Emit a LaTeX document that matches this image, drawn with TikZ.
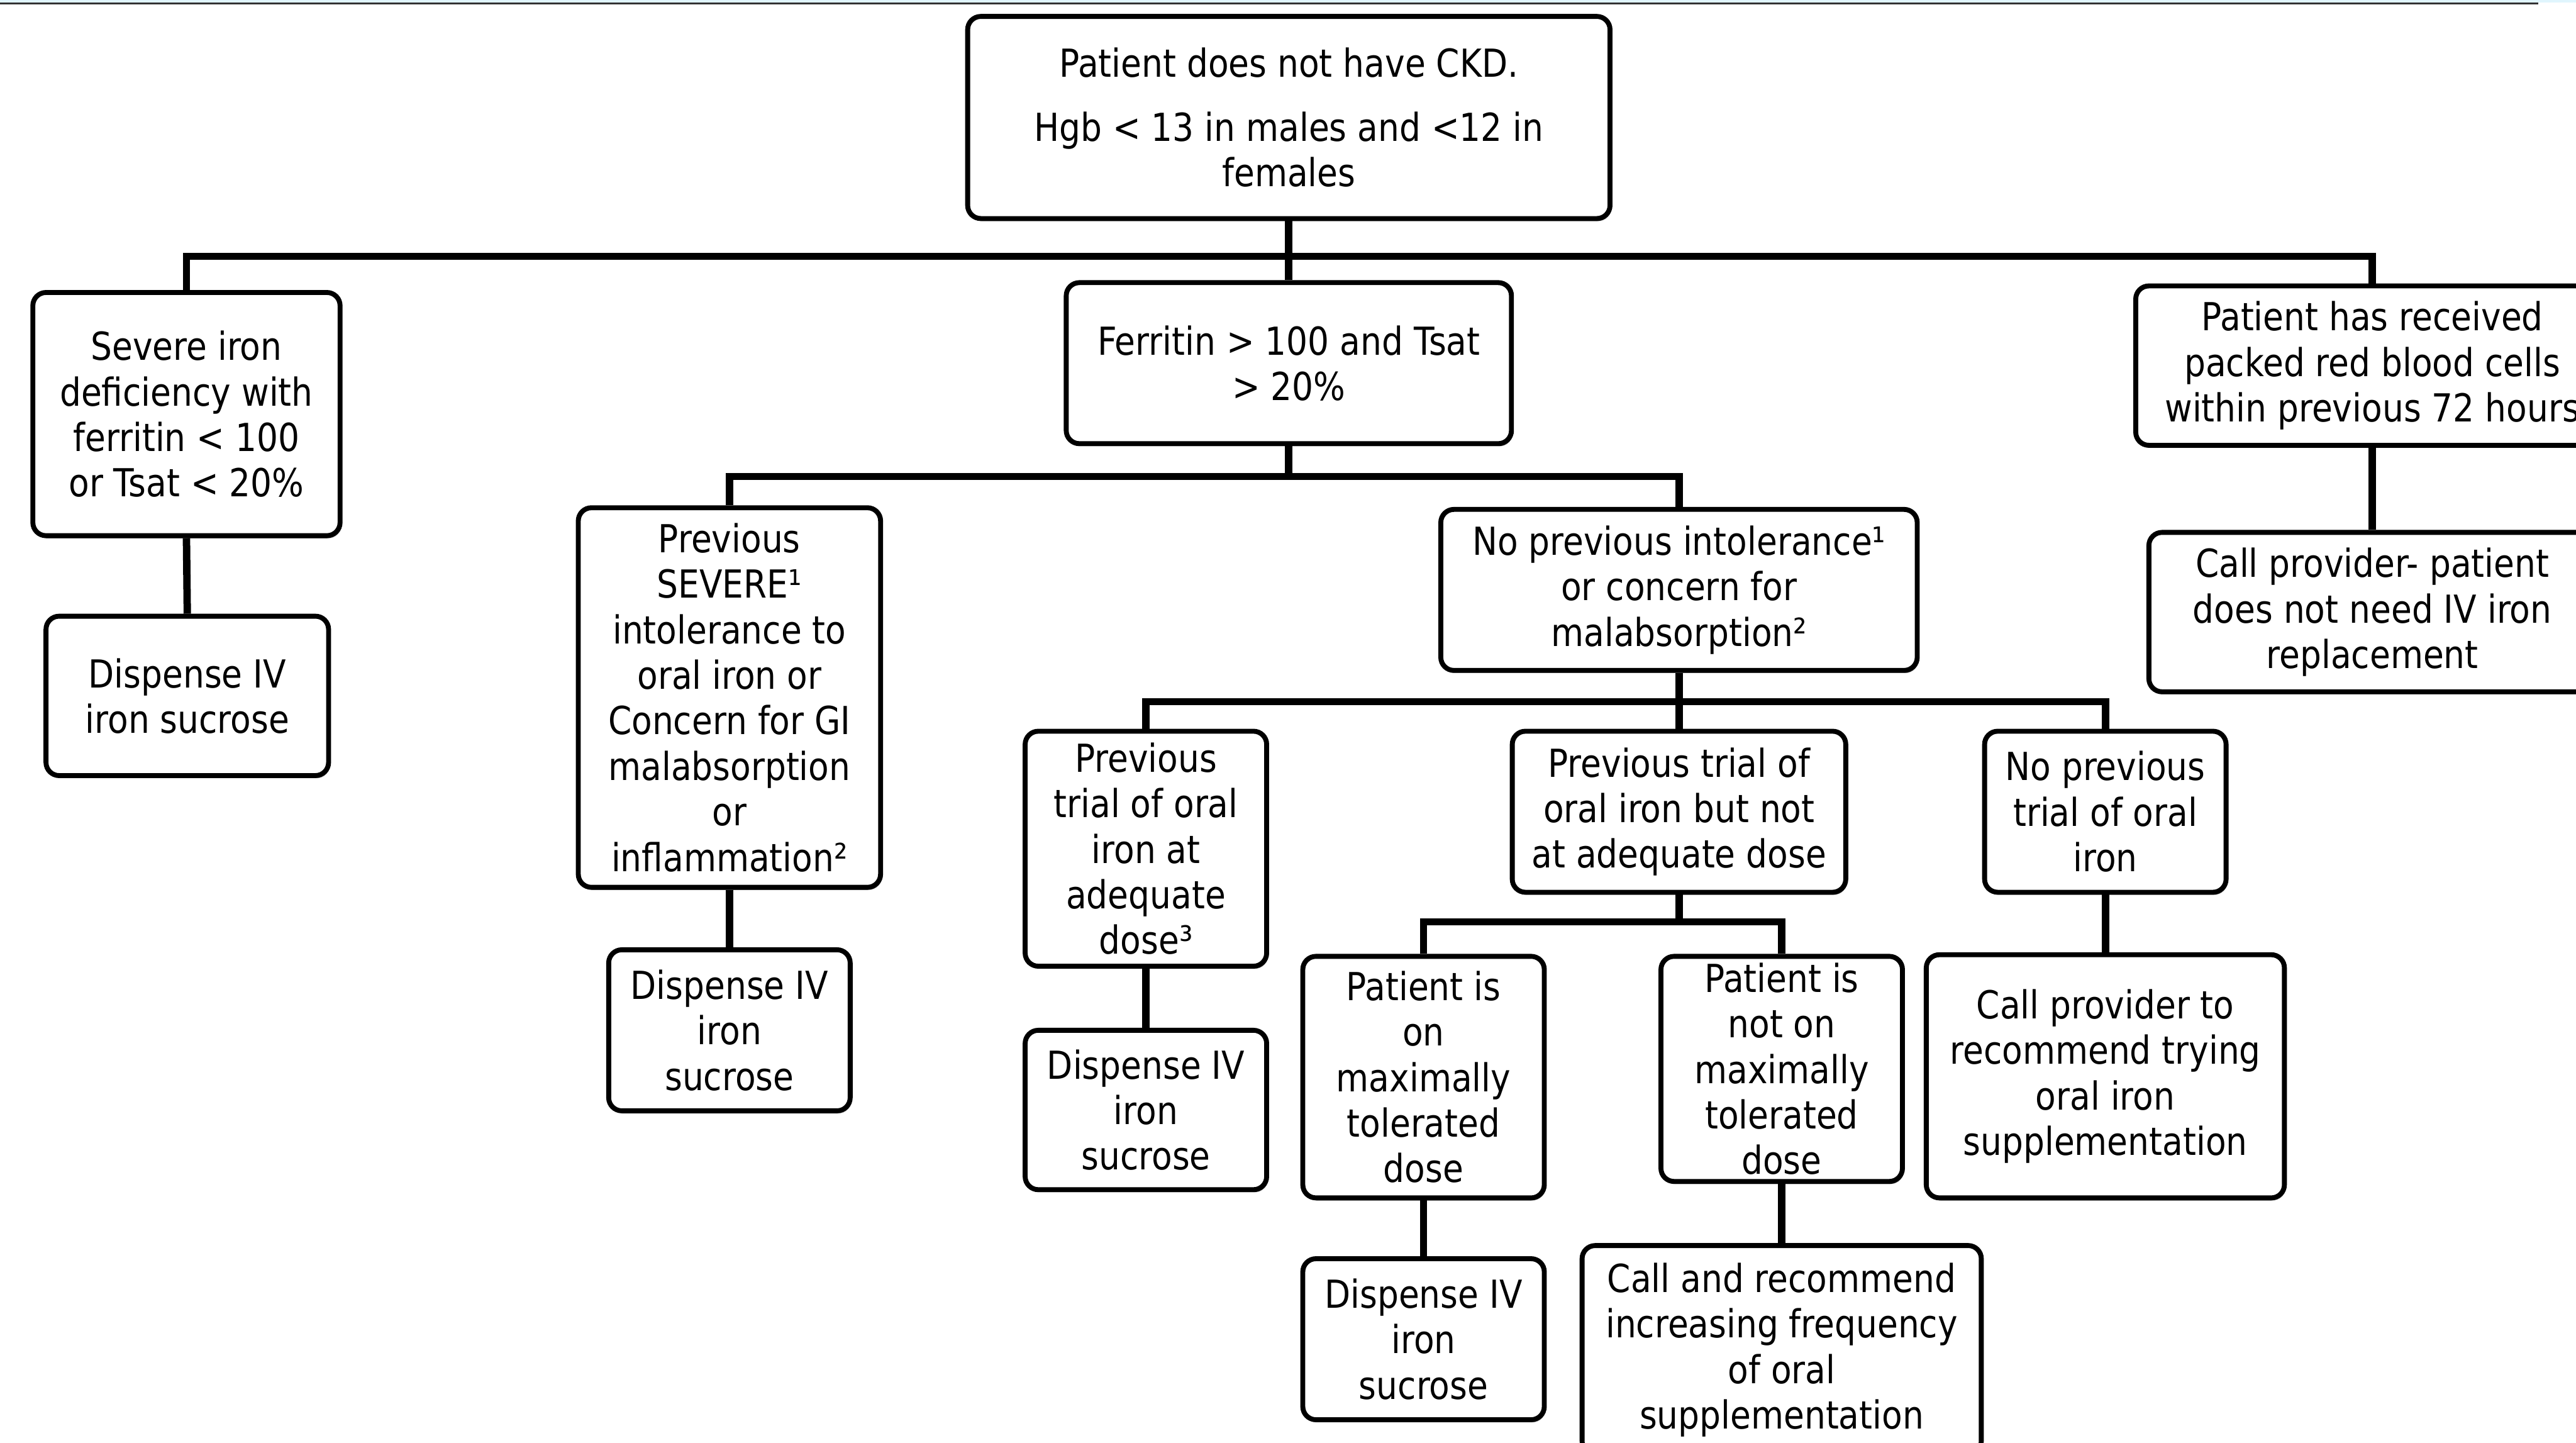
\documentclass[tikz,border=0pt]{standalone}
\usepackage{fontspec}
\setmainfont{DejaVu Sans}[FakeStretch=0.87]
\usetikzlibrary{shadows}

\begin{document}
\begin{tikzpicture}[x=1pt,y=-1pt,
  box/.style={draw,line width=3pt,rounded corners=8pt,fill=white,align=center,inner sep=0pt,
    font=\fontsize{23.5}{27.7}\selectfont,
    drop shadow={shadow xshift=0.8pt,shadow yshift=-1.6pt,fill=black!60,opacity=0.6}},
  conn/.style={line width=4.5pt}]
\useasboundingbox (0,0) rectangle (1568,878);
\clip (0,0) rectangle (1568,878);

\fill[cyan!12] (0,0) rectangle (1568,1.6);
\draw[black!80,line width=0.9pt] (0,2.1) -- (1545,2.1);

\node[box,minimum width=391pt,minimum height=123pt] (top) at (784.5,71.5)
  {Patient does not have CKD.\\[11pt] Hgb < 13 in males and <12 in\\ females};

\node[box,minimum width=187pt,minimum height=148pt] (severe) at (113.5,252)
  {Severe iron\\ deficiency with\\ ferritin < 100\\ or Tsat < 20\%};
\node[box,minimum width=271pt,minimum height=98pt] (ferritin) at (784.5,221)
  {Ferritin > 100 and Tsat\\ > 20\%};
\node[box,minimum width=288pt,minimum height=97pt] (rbc) at (1444,222.5)
  {Patient has received\\ packed red blood cells\\ within previous 72 hours};

\node[box,minimum width=172pt,minimum height=97pt] (disp1) at (114,423.5)
  {Dispense IV\\ iron sucrose};
\node[box,minimum width=272pt,minimum height=97pt] (callno) at (1444,372.5)
  {Call provider- patient\\ does not need IV iron\\ replacement};

\node[box,minimum width=184pt,minimum height=231pt] (sevint) at (444,424.5)
  {Previous\\ SEVERE¹\\ intolerance to\\ oral iron or\\ Concern for GI\\ malabsorption\\ or\\ inflammation²};
\node[box,minimum width=290pt,minimum height=98pt] (nointol) at (1022,359)
  {No previous intolerance¹\\ or concern for\\ malabsorption²};

\node[box,minimum width=147pt,minimum height=98pt] (disp2) at (444,627)
  {Dispense IV\\ iron\\ sucrose};

\node[box,minimum width=147pt,minimum height=143pt] (trialok) at (697.5,516.5)
  {Previous\\ trial of oral\\ iron at\\ adequate\\ dose³};
\node[box,minimum width=203pt,minimum height=98pt] (trialnot) at (1022,494)
  {Previous trial of\\ oral iron but not\\ at adequate dose};
\node[box,minimum width=147pt,minimum height=98pt] (notrial) at (1281.5,494)
  {No previous\\ trial of oral\\ iron};

\node[box,minimum width=147pt,minimum height=97pt] (disp3) at (697.5,675.5)
  {Dispense IV\\ iron\\ sucrose};
\node[box,minimum width=147pt,minimum height=147pt] (maxon) at (866.5,655.5)
  {Patient is\\ on\\ maximally\\ tolerated\\ dose};
\node[box,minimum width=147pt,minimum height=137pt] (maxnot) at (1084.5,650.5)
  {Patient is\\ not on\\ maximally\\ tolerated\\ dose};
\node[box,minimum width=218pt,minimum height=148pt] (callrec) at (1281.5,655)
  {Call provider to\\ recommend trying\\ oral iron\\ supplementation};

\node[box,minimum width=147pt,minimum height=98pt] (disp4) at (866.5,815)
  {Dispense IV\\ iron\\ sucrose};
\node[box,minimum width=243pt,minimum height=127pt] (callinc) at (1084.5,821.5)
  {Call and recommend\\ increasing frequency\\ of oral\\ supplementation};

% bus junctions
\coordinate (j1) at (784.5,156);
\coordinate (j2) at (784.5,290);
\coordinate (j3) at (1022,427);
\coordinate (j4) at (1022,561);

\draw[conn] (top.south) -- (ferritin.north);
\draw[conn] (severe.north) |- (j1) -| (rbc.north);
\draw[conn] (severe.south) -- (disp1.north);
\draw[conn] (rbc.south) -- (callno.north);

\draw[conn] (ferritin.south) -- (j2);
\draw[conn] (sevint.north) |- (j2) -| (nointol.north);
\draw[conn] (sevint.south) -- (disp2.north);

\draw[conn] (nointol.south) -- (trialnot.north);
\draw[conn] (trialok.north) |- (j3) -| (notrial.north);
\draw[conn] (trialok.south) -- (disp3.north);
\draw[conn] (notrial.south) -- (callrec.north);

\draw[conn] (trialnot.south) -- (j4);
\draw[conn] (maxon.north) |- (j4) -| (maxnot.north);
\draw[conn] (maxon.south) -- (disp4.north);
\draw[conn] (maxnot.south) -- (callinc.north);
\end{tikzpicture}
\end{document}
